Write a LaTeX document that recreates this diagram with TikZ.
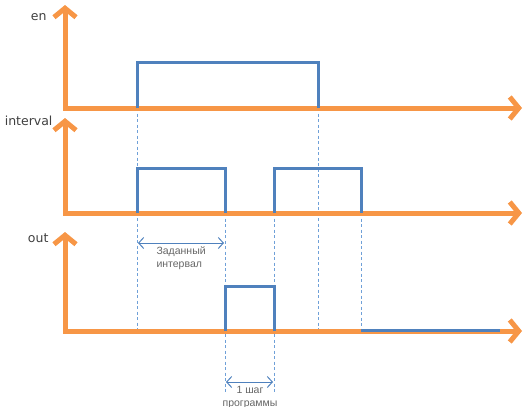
\documentclass[tikz,border=0pt]{standalone}
\usepackage{fontspec}
\setmainfont{DejaVu Sans}
\newfontfamily\notefont{Liberation Sans}
\usepackage{tikz}
\usetikzlibrary{arrows.meta}
\definecolor{axisorange}{HTML}{F79646}
\definecolor{sigblue}{HTML}{4F81BD}
\definecolor{guideblue}{HTML}{6FA0D8}
\definecolor{labelgray}{HTML}{404040}
\definecolor{notegray}{HTML}{666666}
\begin{document}
\begin{tikzpicture}[x=1pt, y=-1pt,
    axis/.style={axisorange, line width=5pt, line join=miter,
      {Straight Barb[length=9pt, width=22pt, line width=5pt]}-{Straight Barb[length=9pt, width=22pt, line width=5pt]}},
    sig/.style={sigblue, line width=3pt, line join=miter},
    guide/.style={guideblue, line width=0.8pt, dash pattern=on 3pt off 2.5pt},
    span/.style={sigblue, line width=1pt,
      {Straight Barb[length=5pt, width=11pt]}-{Straight Barb[length=5pt, width=11pt]}},
    chan/.style={anchor=east, labelgray, font=\fontsize{12.5}{14}\selectfont},
    note/.style={notegray, font=\notefont\fontsize{10.5}{13}\selectfont}]
  \useasboundingbox (0,0) rectangle (531,407);
  % guide lines
  \draw[guide] (137,108) -- (137,332);
  \draw[guide] (225,213) -- (225,394);
  \draw[guide] (274,213) -- (274,394);
  \draw[guide] (318,108) -- (318,332);
  \draw[guide] (361,213) -- (361,332);
  % axes
  \draw[axis] (65,5) -- (65,108) -- (522,108);
  \draw[axis] (65,118) -- (65,213) -- (522,213);
  \draw[axis] (65,232) -- (65,331) -- (522,331);
  \node[chan] (en) at (50,17) {en};
  \node[chan] (interval) at (56,121) {interval};
  \node[chan] (out) at (52,238) {out};
  % signals
  \draw[sig] (137,108) -- (137,62) -- (318,62) -- (318,108);
  \draw[sig] (137,213) -- (137,168) -- (225,168) -- (225,213);
  \draw[sig] (274,213) -- (274,168) -- (361,168) -- (361,213);
  \draw[sig] (225,331) -- (225,286) -- (274,286) -- (274,331);
  \draw[sig] (361,330) -- (500,330);
  % spans
  \coordinate (setA) at (138,243);
  \coordinate (setB) at (224,243);
  \coordinate (stepA) at (226,382);
  \coordinate (stepB) at (273,382);
  \draw[span] (setA) -- (setB);
  \draw[span] (stepA) -- (stepB);
  \node[note, anchor=west, align=left] (setint) at (153,258) {Заданный\\интервал};
  \node[note, align=center] (onestep) at (250,397) {1 шаг\\программы};
\end{tikzpicture}
\end{document}
